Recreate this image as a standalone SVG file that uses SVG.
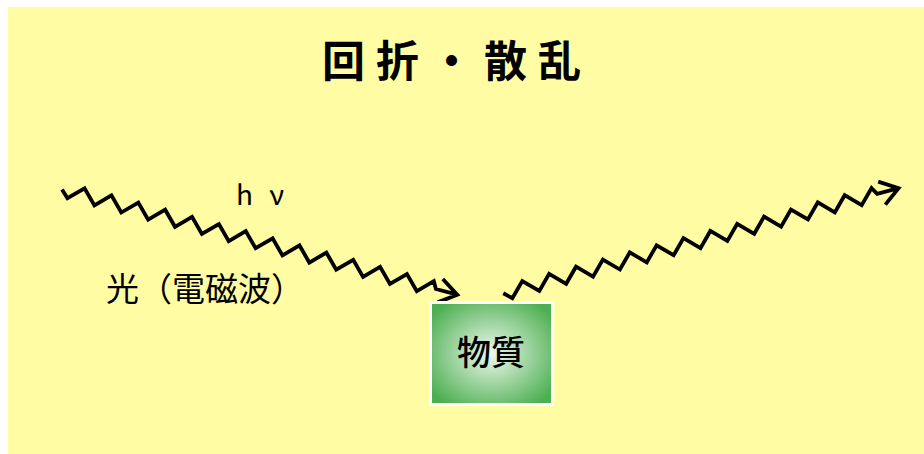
<svg xmlns="http://www.w3.org/2000/svg" width="924" height="454" viewBox="0 0 924 454">
<defs>
<style>
.t{font-family:"Noto Sans CJK JP","Noto Sans",sans-serif;fill:#000}
.w{fill:none;stroke:#000;stroke-width:3.8;stroke-linejoin:miter;stroke-linecap:butt}
</style>
<radialGradient id="g" cx="50%" cy="50%" r="62%">
<stop offset="0" stop-color="#eef8ee"/>
<stop offset="1" stop-color="#4caf50"/>
</radialGradient>
<path id="wave" class="w" d="M0,0 l7.5,7 l14,-14 l13.9,14 l13.9,-14 l13.9,14 l13.9,-14 l13.9,14 l13.9,-14 l13.9,14 l13.9,-14 l13.9,14 l13.9,-14 l13.9,14 l13.9,-14 l13.9,14 l13.9,-14 l13.9,14 l13.9,-14 l13.9,14 l13.9,-14 l13.9,14 l13.9,-14 l13.9,14 l13.9,-14 l13.9,14 l13.9,-14 l13.9,14 l13.9,-14 l4,7 L409,0 M391,-11.5 L409,0 L392,12.5"/>
</defs>
<rect x="0" y="0" width="924" height="454" fill="#fff"/>
<rect x="8" y="7" width="916" height="447" fill="#fffca3"/>
<text class="t" x="457" y="77" font-size="43" font-weight="bold" text-anchor="middle" letter-spacing="11">回折・散乱</text>
<text class="t" x="236" y="205" font-size="28" word-spacing="10">h ν</text>
<text class="t" x="205" y="301" font-size="33" text-anchor="middle">光（電磁波）</text>
<g id="connectors">
<use href="#wave" transform="translate(62,189.5) rotate(14.9)"/>
<use href="#wave" transform="translate(503.3,293.3) rotate(-14.9)"/>
</g>
<g id="matter">
<rect x="430.5" y="302.5" width="122" height="102" fill="url(#g)" stroke="#fff" stroke-width="3"/>
<text class="t" x="491" y="365" font-size="34" font-weight="500" text-anchor="middle">物質</text>
</g>
</svg>
